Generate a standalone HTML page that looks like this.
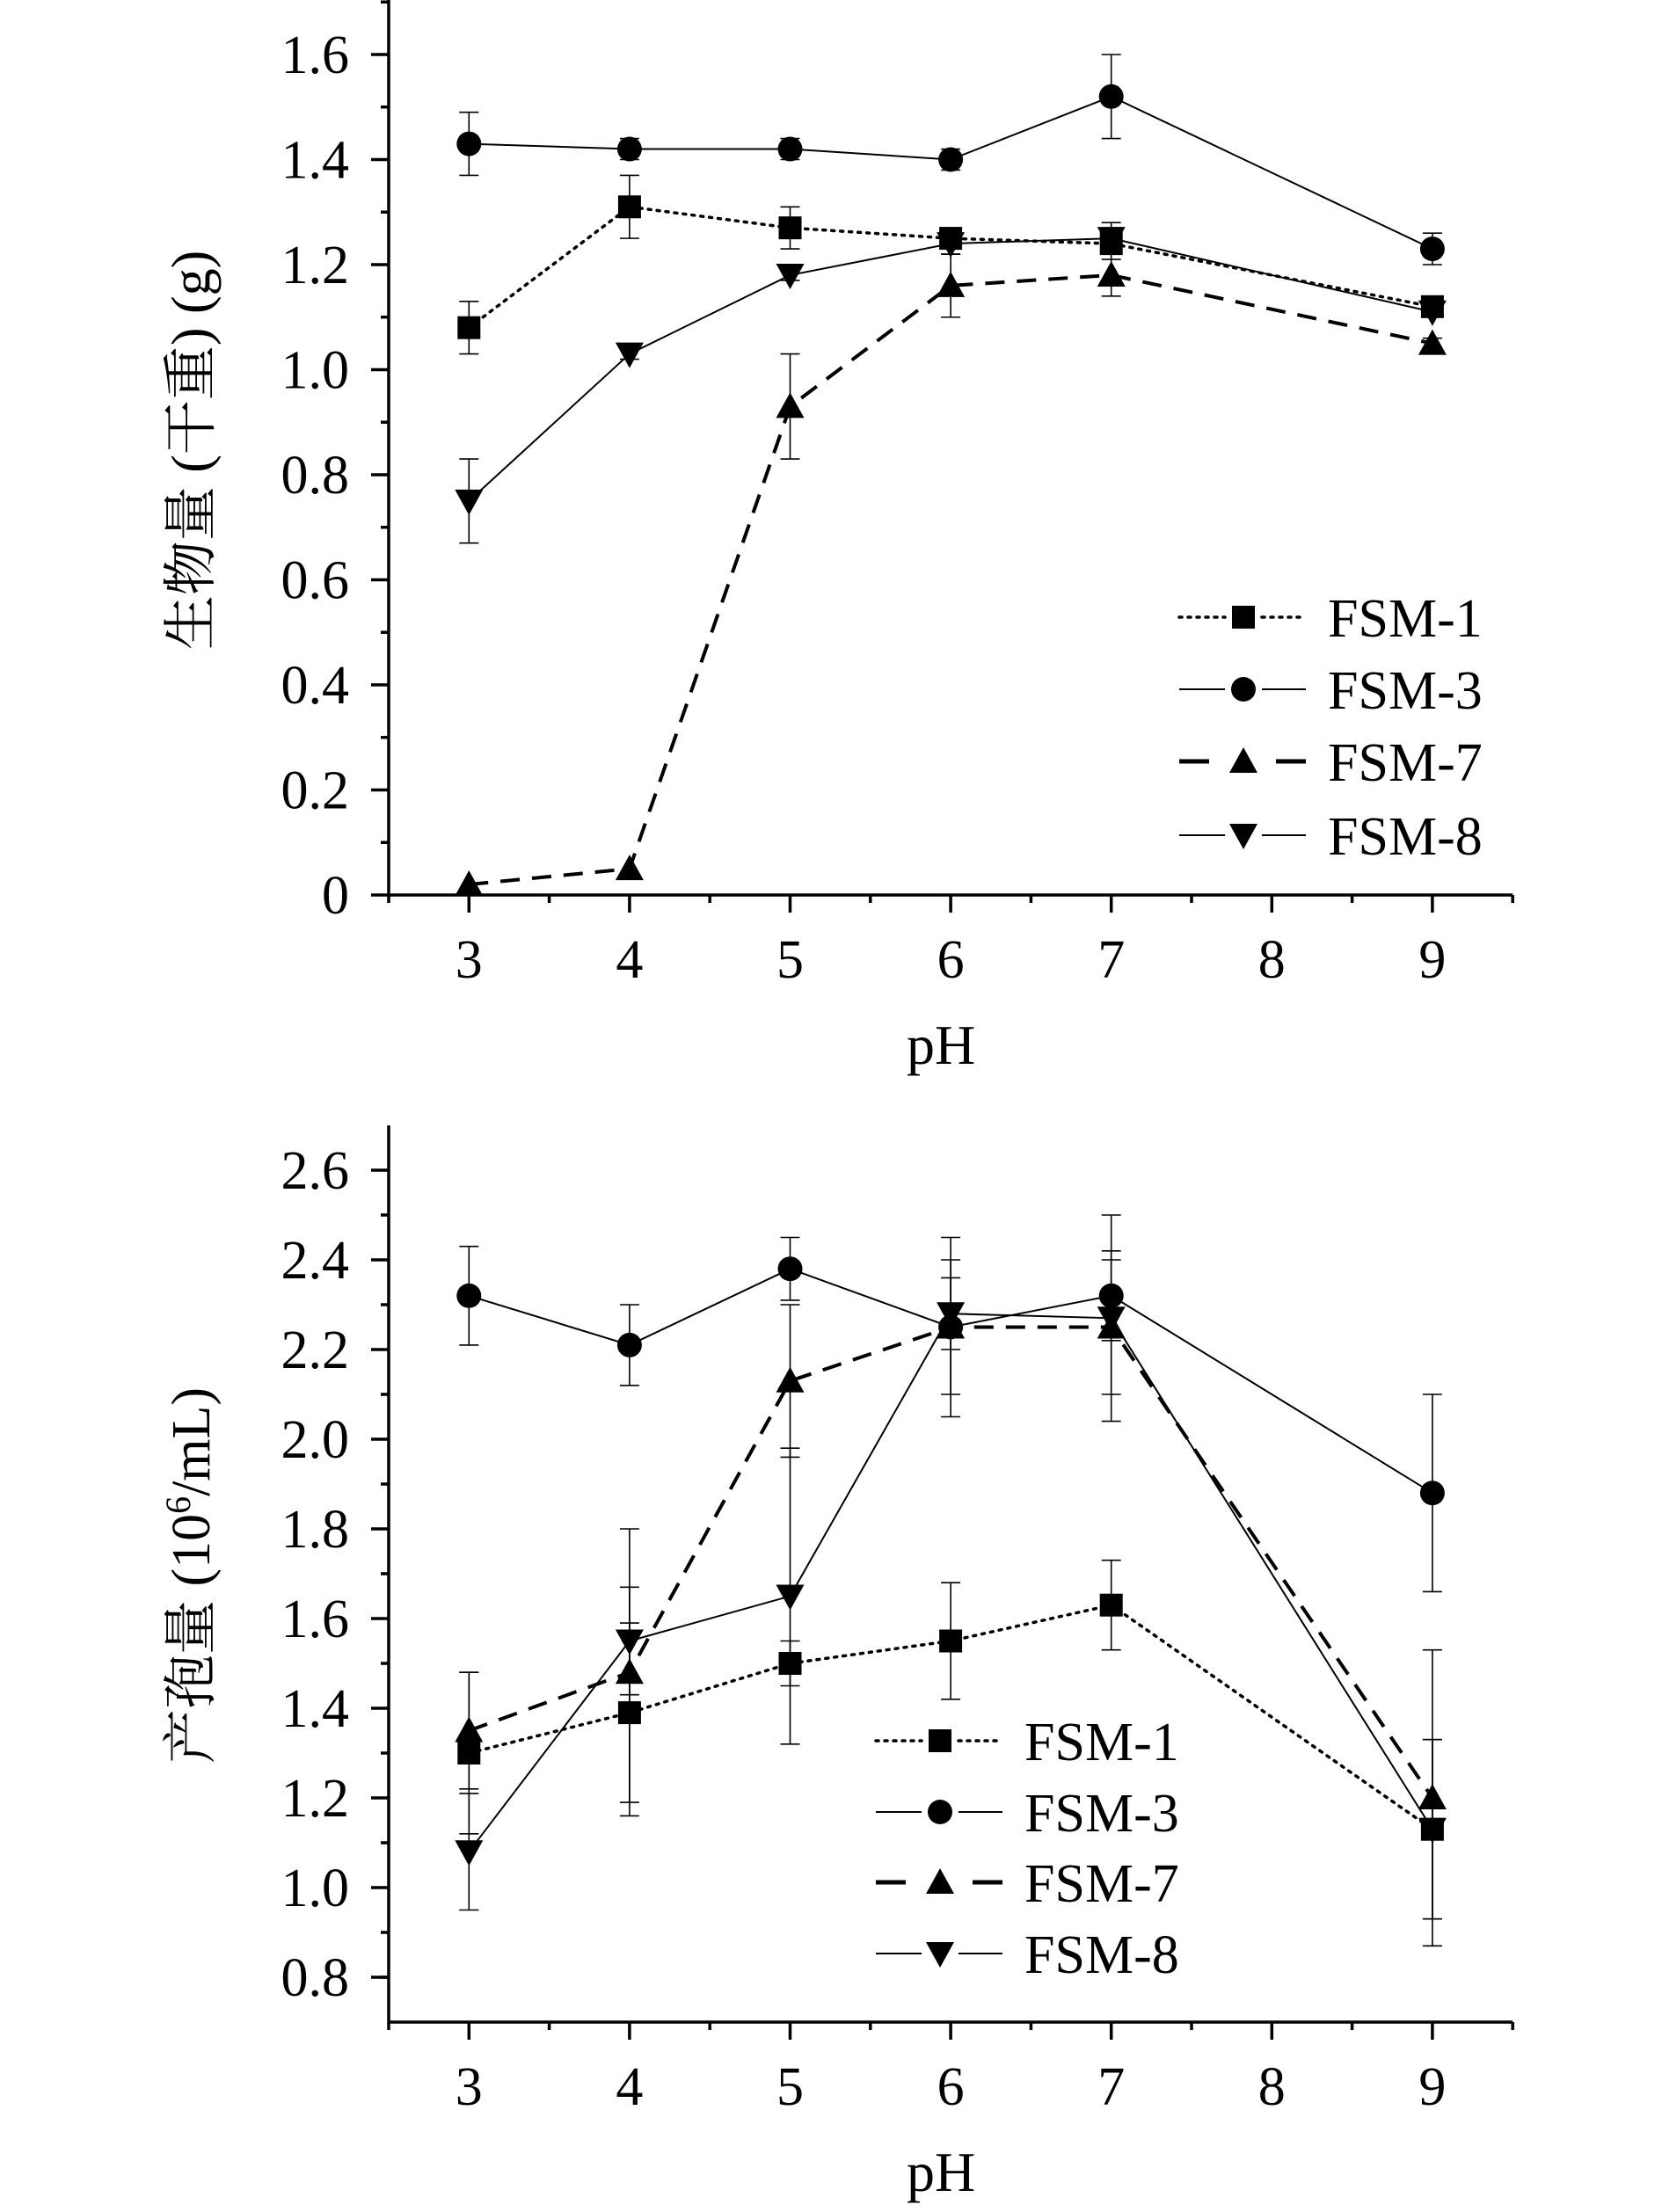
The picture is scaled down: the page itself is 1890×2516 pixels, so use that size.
<!DOCTYPE html>
<html><head><meta charset="utf-8">
<style>
html,body{margin:0;padding:0;background:#fff;}
svg{display:block;}
text{font-family:"Liberation Serif","Noto Serif CJK SC",serif;fill:#000;}
</style></head>
<body>
<svg id="chart" width="1890" height="2516" viewBox="0 0 1890 2516" xmlns="http://www.w3.org/2000/svg"></svg>
<script>
const phValues = [3, 4, 5, 6, 7, 9];
const xTicks = [3, 4, 5, 6, 7, 8, 9];
const seriesNames = ["FSM-1", "FSM-3", "FSM-7", "FSM-8"];

// Top chart: biomass (g)
const bioTicks = [0, 0.2, 0.4, 0.6, 0.8, 1.0, 1.2, 1.4, 1.6];
const bioTickLabels = ["0", "0.2", "0.4", "0.6", "0.8", "1.0", "1.2", "1.4", "1.6"];
const bioFSM1 = [1.08, 1.31, 1.27, 1.25, 1.24, 1.12];
const bioFSM1Err = [0.05, 0.06, 0.04, 0.02, 0.03, 0.01];
const bioFSM3 = [1.43, 1.42, 1.42, 1.40, 1.52, 1.23];
const bioFSM3Err = [0.06, 0.02, 0.02, 0.02, 0.08, 0.03];
const bioFSM7 = [0.02, 0.05, 0.93, 1.16, 1.18, 1.05];
const bioFSM7Err = [0.0, 0.0, 0.10, 0.06, 0.04, 0.01];
const bioFSM8 = [0.75, 1.03, 1.18, 1.24, 1.25, 1.11];
const bioFSM8Err = [0.08, 0.01, 0.01, 0.02, 0.03, 0.01];

// Bottom chart: spore yield (10^6/mL)
const sporeTicks = [0.8, 1.0, 1.2, 1.4, 1.6, 1.8, 2.0, 2.2, 2.4, 2.6];
const sporeTickLabels = ["0.8", "1.0", "1.2", "1.4", "1.6", "1.8", "2.0", "2.2", "2.4", "2.6"];
const sporeFSM1 = [1.30, 1.39, 1.50, 1.55, 1.63, 1.13];
const sporeFSM1Err = [0.18, 0.20, 0.05, 0.13, 0.10, 0.20];
const sporeFSM3 = [2.32, 2.21, 2.38, 2.25, 2.32, 1.88];
const sporeFSM3Err = [0.11, 0.09, 0.07, 0.15, 0.10, 0.22];
const sporeFSM7 = [1.35, 1.48, 2.13, 2.25, 2.25, 1.20];
const sporeFSM7Err = [0.13, 0.32, 0.17, 0.20, 0.15, 0.33];
const sporeFSM8 = [1.08, 1.55, 1.65, 2.28, 2.27, 1.13];
const sporeFSM8Err = [0.13, 0.12, 0.33, 0.08, 0.23, 0.20];

const NS = "http://www.w3.org/2000/svg";
const svg = document.getElementById("chart");
function mk(tag, attrs, parent) {
  const e = document.createElementNS(NS, tag);
  for (const k in attrs) e.setAttribute(k, attrs[k]);
  (parent || svg).appendChild(e);
  return e;
}
const styles = [
  {dash: "3,7", w: 3.5, marker: "square"},
  {dash: "", w: 2, marker: "circle"},
  {dash: "22,14", w: 4, marker: "up"},
  {dash: "", w: 2, marker: "down"}
];
function marker(g, type, cx, cy) {
  let m;
  if (type === "square") m = mk("rect", {x: cx - 13, y: cy - 13, width: 26, height: 26, fill: "#000"}, g);
  else if (type === "circle") m = mk("circle", {cx: cx, cy: cy, r: 14, fill: "#000"}, g);
  else if (type === "up") m = mk("polygon", {points: `${cx},${cy - 16} ${cx - 16},${cy + 13} ${cx + 16},${cy + 13}`, fill: "#000"}, g);
  else m = mk("polygon", {points: `${cx},${cy + 16} ${cx - 16},${cy - 13} ${cx + 16},${cy - 13}`, fill: "#000"}, g);
  return m;
}

function drawChart(cfg) {
  const g = mk("g", {});
  
  
  const X = v => cfg.x0 + (v - 2.5) * cfg.xs;
  const Y = v => cfg.yAxis - (v - cfg.ymin) * cfg.ys;
  const left = X(2.5), right = X(9.5), top = Y(cfg.ymax);
  const ax = mk("path", {d: `M${left},${top} V${cfg.yAxis} H${right}`, stroke: "#000", "stroke-width": 3.5, fill: "none"}, g);
  
  
  cfg.yTicks.forEach((t, i) => {
    const y = Y(t);
    mk("line", {x1: left - 20, x2: left, y1: y, y2: y, stroke: "#000", "stroke-width": 3.5}, g);
    const mid = t + 0.1;
    if (mid < cfg.ymax) mk("line", {x1: left - 9, x2: left, y1: Y(mid), y2: Y(mid), stroke: "#000", "stroke-width": 3.5}, g);
    const tl = mk("text", {x: left - 45, y: y + 21, "font-size": 62, "text-anchor": "end"}, g);
    tl.textContent = cfg.yLabels[i];
    
    
  });
  if (cfg.ymin + 0.1 < cfg.ymax && cfg.yTicks[0] > cfg.ymin) {
    mk("line", {x1: left - 9, x2: left, y1: Y(cfg.ymin + 0.1), y2: Y(cfg.ymin + 0.1), stroke: "#000", "stroke-width": 3.5}, g);
  }
  xTicks.forEach(t => {
    const x = X(t);
    mk("line", {x1: x, x2: x, y1: cfg.yAxis, y2: cfg.yAxis + 20, stroke: "#000", "stroke-width": 3.5}, g);
    const tl = mk("text", {x: x, y: cfg.yAxis + 94, "font-size": 62, "text-anchor": "middle"}, g);
    tl.textContent = String(t);
    
    
  });
  [2.5, 3.5, 4.5, 5.5, 6.5, 7.5, 8.5, 9.5].forEach(t => {
    mk("line", {x1: X(t), x2: X(t), y1: cfg.yAxis, y2: cfg.yAxis + 9, stroke: "#000", "stroke-width": 3.5}, g);
  });
  const xt = mk("text", {x: (left + right) / 2 - 11, y: cfg.yAxis + 192, "font-size": 64, "text-anchor": "middle"}, g);
  xt.textContent = "pH";
  
  
  const yt = mk("text", {x: 0, y: 0, "font-size": 62, "text-anchor": "middle", transform: `translate(${cfg.titleX},${cfg.titleY}) rotate(-90)`}, g);
  yt.innerHTML = cfg.yTitle;
  
  
  cfg.series.forEach((vals, si) => {
    const st = styles[si];
    const sg = mk("g", {}, g);
    
    
    const errs = cfg.errs[si];
    vals.forEach((v, i) => {
      const e = errs[i];
      if (e > 0) {
        const x = X(phValues[i]);
        const eb = mk("path", {d: `M${x},${Y(v - e)} V${Y(v + e)} M${x - 11},${Y(v - e)} H${x + 11} M${x - 11},${Y(v + e)} H${x + 11}`, stroke: "#000", "stroke-width": 1.6, fill: "none"}, sg);
        
        
      }
    });
    const pts = vals.map((v, i) => `${X(phValues[i])},${Y(v)}`).join(" ");
    const pl = mk("polyline", {points: pts, fill: "none", stroke: "#000", "stroke-width": st.w, "stroke-dasharray": st.dash, "stroke-linecap": st.marker === "square" ? "round" : "butt"}, sg);
    
    
    vals.forEach((v, i) => {
      const m = marker(sg, st.marker, X(phValues[i]), Y(v));
      
      
    });
    const ly = cfg.legY[si];
    const lg = mk("g", {}, g);
    
    
    const L = cfg.legX;
    if (st.marker === "up") {
      mk("line", {x1: L, x2: L + 34, y1: ly, y2: ly, stroke: "#000", "stroke-width": 5}, lg);
      mk("line", {x1: L + 110, x2: L + 144, y1: ly, y2: ly, stroke: "#000", "stroke-width": 5}, lg);
    } else {
      mk("line", {x1: L, x2: L + 52, y1: ly, y2: ly, stroke: "#000", "stroke-width": st.w, "stroke-dasharray": st.dash, "stroke-linecap": st.marker === "square" ? "round" : "butt"}, lg);
      mk("line", {x1: L + 94, x2: L + 144, y1: ly, y2: ly, stroke: "#000", "stroke-width": st.w, "stroke-dasharray": st.dash, "stroke-linecap": st.marker === "square" ? "round" : "butt"}, lg);
    }
    marker(lg, st.marker, L + 73, ly);
    const lt = mk("text", {x: L + 169, y: ly + 22, "font-size": 62}, lg);
    lt.textContent = seriesNames[si];
  });
}

drawChart({
  name: "biomass-chart", x0: 442, xs: 182.6, yAxis: 1018, ymin: 0, ymax: 1.71, ys: 597.5,
  yTicks: bioTicks, yLabels: bioTickLabels,
  yTitle: '生物量 (干重) (g)', titleX: 238, titleY: 512,
  series: [bioFSM1, bioFSM3, bioFSM7, bioFSM8],
  errs: [bioFSM1Err, bioFSM3Err, bioFSM7Err, bioFSM8Err],
  legX: 1341, legY: [702, 784, 866, 950]
});
drawChart({
  name: "spore-chart", x0: 442, xs: 182.6, yAxis: 2300, ymin: 0.7, ymax: 2.7, ys: 510,
  yTicks: sporeTicks, yLabels: sporeTickLabels,
  yTitle: '产孢量 (10<tspan dy="-22" font-size="40">6</tspan><tspan dy="22">/mL)</tspan>', titleX: 238, titleY: 1792,
  series: [sporeFSM1, sporeFSM3, sporeFSM7, sporeFSM8],
  errs: [sporeFSM1Err, sporeFSM3Err, sporeFSM7Err, sporeFSM8Err],
  legX: 996, legY: [1980, 2061, 2141, 2222]
});
</script>
</body></html>
